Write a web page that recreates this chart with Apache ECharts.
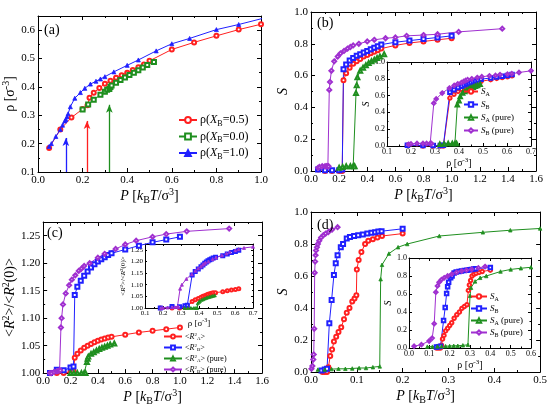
<!DOCTYPE html>
<html>
<head>
<meta charset="utf-8">
<script src="https://cdn.jsdelivr.net/npm/echarts@6/dist/echarts.min.js"></script>
<style>
    html, body { margin: 0; padding: 0; background: #fff; }
    #chart { width: 550px; height: 407px; }
</style>
</head>
<body>
<div id="chart"></div>
<script>
// ---------- data: mixture X_B = 0.5 (panels a-c) ----------
var pMix   = [0.05, 0.10, 0.15, 0.20, 0.222, 0.231, 0.25, 0.275, 0.30, 0.325, 0.35, 0.375, 0.40, 0.425, 0.45, 0.475, 0.50, 0.60, 0.70, 0.80, 0.90, 1.00];
var rhoMix = [0.185, 0.25, 0.292, 0.322, 0.335, 0.362, 0.379, 0.396, 0.411, 0.422, 0.432, 0.441, 0.450, 0.460, 0.469, 0.479, 0.492, 0.532, 0.557, 0.580, 0.602, 0.621];
var sAMix  = [0.01, 0.0, 0.0, 0.0, 0.0, 0.57, 0.615, 0.65, 0.675, 0.69, 0.705, 0.72, 0.73, 0.74, 0.75, 0.76, 0.77, 0.79, 0.805, 0.815, 0.825, 0.835];
var sBMix  = [0.01, 0.005, 0.005, 0.005, 0.01, 0.64, 0.67, 0.695, 0.71, 0.725, 0.735, 0.745, 0.755, 0.765, 0.775, 0.785, 0.795, 0.81, 0.82, 0.83, 0.84, 0.85];
var rAMix  = [1.0, 1.0, 1.0, 1.002, 1.004, 1.028, 1.035, 1.041, 1.046, 1.05, 1.053, 1.056, 1.059, 1.061, 1.063, 1.065, 1.066, 1.07, 1.074, 1.077, 1.08, 1.083];
var rBMix  = [1.0, 1.006, 1.005, 1.01, 1.012, 1.142, 1.157, 1.168, 1.177, 1.185, 1.192, 1.198, 1.203, 1.207, 1.211, 1.215, 1.218, 1.225, 1.232, 1.238, 1.243, 1.248];

// pure A (X_B = 0.0)
var pPureA   = [0.20, 0.225, 0.25, 0.28, 0.30, 0.31, 0.32, 0.325, 0.33, 0.35, 0.37, 0.39, 0.41, 0.43, 0.45, 0.47, 0.49, 0.52];
var rhoPureA = [0.320, 0.338, 0.355, 0.372, 0.383, 0.390, 0.393, 0.400, 0.405, 0.415, 0.424, 0.433, 0.442, 0.450, 0.459, 0.468, 0.477, 0.488];
var sPureA   = [0.02, 0.025, 0.03, 0.03, 0.03, 0.03, 0.49, 0.54, 0.59, 0.63, 0.65, 0.665, 0.68, 0.69, 0.70, 0.71, 0.72, 0.735];
var rPureA   = [1.0, 1.0, 1.0, 1.0, 1.0, 1.0, 1.02, 1.026, 1.03, 1.035, 1.038, 1.041, 1.044, 1.046, 1.048, 1.05, 1.052, 1.054];

// pure B (X_B = 1.0)
var pPureB   = [0.05, 0.06, 0.08, 0.10, 0.11, 0.12, 0.125, 0.13, 0.135, 0.145, 0.165, 0.19, 0.21, 0.235, 0.26, 0.28, 0.30, 0.34, 0.40, 0.45, 0.53, 0.60, 0.68, 0.80, 0.90, 1.05, 1.36];
var rhoPureB = [0.190, 0.200, 0.225, 0.250, 0.265, 0.280, 0.285, 0.295, 0.305, 0.330, 0.360, 0.380, 0.395, 0.410, 0.420, 0.428, 0.436, 0.453, 0.476, 0.495, 0.527, 0.552, 0.571, 0.602, 0.620, 0.650, 0.700];
var sPureB   = [0.02, 0.025, 0.03, 0.03, 0.03, 0.03, 0.03, 0.51, 0.56, 0.63, 0.69, 0.72, 0.74, 0.755, 0.77, 0.78, 0.79, 0.80, 0.815, 0.825, 0.835, 0.84, 0.85, 0.855, 0.86, 0.875, 0.895];
var rPureB   = [1.0, 1.0, 1.002, 1.003, 1.004, 1.005, 1.005, 1.083, 1.10, 1.125, 1.145, 1.16, 1.17, 1.178, 1.186, 1.19, 1.195, 1.2, 1.21, 1.217, 1.226, 1.234, 1.241, 1.248, 1.253, 1.258, 1.263];

// transition arrows in (a): pure B, mixture, pure A
var arrowP   = [0.125, 0.22, 0.32];
var arrowTop = [0.22, 0.28, 0.337];
var arrowBase = 0.1;

// ---------- data: panel (d) ----------
var pDA   = [0.025, 0.030, 0.035, 0.038, 0.042, 0.046, 0.050, 0.055, 0.060, 0.066, 0.072, 0.078, 0.084, 0.090, 0.095, 0.099, 0.100, 0.104, 0.110, 0.118, 0.125, 0.135, 0.145, 0.155, 0.200];
var rhoDA = [0.135, 0.145, 0.155, 0.160, 0.165, 0.172, 0.180, 0.190, 0.200, 0.210, 0.222, 0.235, 0.248, 0.260, 0.272, 0.285, 0.292, 0.297, 0.303, 0.310, 0.320, 0.330, 0.345, 0.360, 0.400];
var sDA   = [0.0, 0.0, 0.0, 0.03, 0.10, 0.14, 0.19, 0.22, 0.25, 0.28, 0.33, 0.37, 0.40, 0.44, 0.46, 0.48, 0.64, 0.70, 0.75, 0.80, 0.82, 0.83, 0.84, 0.85, 0.865];

var pDB   = [0.023, 0.030, 0.035, 0.040, 0.045, 0.050, 0.054, 0.058, 0.065, 0.070, 0.078, 0.085, 0.094, 0.103, 0.113, 0.123, 0.132, 0.140, 0.147, 0.154, 0.200];
var rhoDB = [0.135, 0.145, 0.155, 0.170, 0.178, 0.185, 0.190, 0.195, 0.205, 0.212, 0.222, 0.232, 0.245, 0.258, 0.272, 0.285, 0.297, 0.307, 0.318, 0.328, 0.400];
var sDB   = [0.01, 0.015, 0.02, 0.305, 0.45, 0.606, 0.68, 0.73, 0.78, 0.80, 0.834, 0.844, 0.85, 0.855, 0.86, 0.865, 0.87, 0.873, 0.878, 0.88, 0.895];

var pDPA   = [0.015, 0.030, 0.045, 0.060, 0.075, 0.090, 0.105, 0.120, 0.135, 0.150, 0.152, 0.155, 0.170, 0.190, 0.210, 0.280, 0.375, 0.435, 0.500];
var rhoDPA = [0.090, 0.115, 0.140, 0.160, 0.180, 0.200, 0.220, 0.240, 0.265, 0.290, 0.300, 0.305, 0.325, 0.350, 0.380, 0.450, 0.500, 0.550, 0.600];
var sDPA   = [0.015, 0.015, 0.018, 0.02, 0.02, 0.022, 0.025, 0.025, 0.03, 0.035, 0.58, 0.67, 0.74, 0.78, 0.80, 0.85, 0.873, 0.886, 0.897];

var pDPB   = [0.001, 0.003, 0.005, 0.006, 0.007, 0.008, 0.009, 0.010, 0.011, 0.013, 0.015, 0.018, 0.022, 0.027, 0.032, 0.038, 0.046, 0.058];
var rhoDPB = [0.025, 0.061, 0.099, 0.114, 0.124, 0.132, 0.140, 0.148, 0.160, 0.173, 0.190, 0.210, 0.234, 0.259, 0.283, 0.308, 0.341, 0.374];
var sDPB   = [0.02, 0.037, 0.078, 0.11, 0.27, 0.62, 0.69, 0.73, 0.76, 0.78, 0.80, 0.82, 0.84, 0.855, 0.865, 0.875, 0.89, 0.905];

// ---------- styling ----------
var serif = '"Liberation Serif", "DejaVu Serif", serif';
var RED = '#ff2020', BLUE = '#2020ff', GREEN = '#1f8f1f', PURPLE = '#a030d0';

function zip(a, b) {
    var out = [];
    for (var i = 0; i < a.length; i++) out.push([a[i], b[i]]);
    return out;
}

function rich(fs) {
    var small = Math.round(fs * 0.68);
    return {
        i: {fontFamily: serif, fontStyle: 'italic', fontSize: fs, color: '#000'},
        sub: {fontFamily: serif, fontSize: small, color: '#000', padding: [Math.round(fs * 0.55), 0, 0, 0]},
        sup: {fontFamily: serif, fontSize: small, color: '#000', padding: [0, 0, Math.round(fs * 0.55), 0]}
    };
}

function fmt(step, digits) {
    return function (v) {
        var k = v / step;
        return Math.abs(k - Math.round(k)) < 1e-6 ? v.toFixed(digits) : '';
    };
}

var xAxes = [], yAxes = [];

function axis(g, pos, s, main) {
    return {
        type: 'value', gridIndex: g, position: pos,
        min: s.min, max: s.max, interval: s.step,
        name: main ? s.name : '', nameLocation: 'middle', nameGap: s.gap,
        nameTextStyle: {fontFamily: serif, fontSize: s.nameSize, color: '#000', rich: rich(s.nameSize)},
        axisLine: {show: true, onZero: false, lineStyle: {color: '#000', width: 1}},
        axisTick: {show: true, inside: true, length: s.tick, lineStyle: {color: '#000', width: 1}},
        minorTick: {show: true, splitNumber: 2, length: s.tick / 2, lineStyle: {color: '#000', width: 1}},
        axisLabel: {show: main, fontFamily: serif, fontSize: s.size, color: '#000', margin: s.margin, formatter: fmt(s.step, s.digits)},
        splitLine: {show: false}
    };
}

function addAxes(g, xs, ys) {
    var idx = [xAxes.length, yAxes.length];
    xAxes.push(axis(g, 'bottom', xs, true));
    xAxes.push(axis(g, 'top', xs, false));
    yAxes.push(axis(g, 'left', ys, true));
    yAxes.push(axis(g, 'right', ys, false));
    return idx;
}

var grids = [
    {left: 38, top: 16, width: 223, height: 156},    // (a)
    {left: 311, top: 12, width: 225, height: 159},   // (b)
    {left: 387, top: 62, width: 144, height: 84},    // (b) inset
    {left: 42, top: 222, width: 220, height: 152},   // (c)
    {left: 145, top: 244, width: 108, height: 64},   // (c) inset
    {left: 311, top: 212, width: 230, height: 160},  // (d)
    {left: 409, top: 258, width: 122, height: 90}    // (d) inset
];
grids.forEach(function (g) { g.show = true; g.backgroundColor = '#fff'; g.borderWidth = 0; g.containLabel = false; });

var pName = '{i|P} [{i|k}{sub|B}{i|T}/σ{sup|3}]';
var rhoName = 'ρ [σ{sup|-3}]';
var sName = '{i|S}';
var rName = '<{i|R}{sup|2}>/<{i|R}{sup|2}(0)>';

var A  = addAxes(0, {min: 0, max: 1, step: 0.2, digits: 1, name: pName, gap: 14, nameSize: 14, size: 11, tick: 4, margin: 3},
                    {min: 0.1, max: 0.65, step: 0.1, digits: 1, name: rhoName, gap: 18, nameSize: 14, size: 11, tick: 4, margin: 3});
var B  = addAxes(1, {min: 0, max: 1.6, step: 0.2, digits: 1, name: pName, gap: 14, nameSize: 14, size: 11, tick: 4, margin: 3},
                    {min: 0, max: 1, step: 0.2, digits: 1, name: sName, gap: 18, nameSize: 14, size: 11, tick: 4, margin: 3});
var Bi = addAxes(2, {min: 0.1, max: 0.7, step: 0.1, digits: 1, name: rhoName, gap: 9, nameSize: 10, size: 8, tick: 3, margin: 2},
                    {min: 0, max: 1, step: 0.2, digits: 1, name: sName, gap: 12, nameSize: 10, size: 8, tick: 3, margin: 2});
var C  = addAxes(3, {min: 0, max: 1.6, step: 0.2, digits: 1, name: pName, gap: 13, nameSize: 14, size: 11, tick: 4, margin: 3},
                    {min: 1.0, max: 1.275, step: 0.05, digits: 2, name: rName, gap: 22, nameSize: 14, size: 11, tick: 4, margin: 3});
var Ci = addAxes(4, {min: 0.1, max: 0.7, step: 0.1, digits: 1, name: rhoName, gap: 8, nameSize: 9, size: 7, tick: 2, margin: 2},
                    {min: 1.0, max: 1.275, step: 0.05, digits: 2, name: rName, gap: 14, nameSize: 7, size: 7, tick: 2, margin: 2});
var D  = addAxes(5, {min: 0, max: 0.5, step: 0.1, digits: 1, name: pName, gap: 14, nameSize: 14, size: 11, tick: 4, margin: 3},
                    {min: 0, max: 1, step: 0.2, digits: 1, name: sName, gap: 18, nameSize: 14, size: 11, tick: 4, margin: 3});
var Di = addAxes(6, {min: 0, max: 0.6, step: 0.1, digits: 1, name: rhoName, gap: 9, nameSize: 10, size: 8, tick: 3, margin: 2},
                    {min: 0, max: 1, step: 0.2, digits: 1, name: sName, gap: 12, nameSize: 10, size: 8, tick: 3, margin: 2});

function line(name, ax, data, color, symbol, size) {
    return {
        type: 'line', name: name, xAxisIndex: ax[0], yAxisIndex: ax[1],
        data: data, symbol: symbol, symbolSize: size, showSymbol: true,
        lineStyle: {color: color, width: 1},
        itemStyle: {color: color, borderColor: color, borderWidth: 0.8},
        emphasis: {disabled: true}, clip: true, z: 3
    };
}

function arrow(i, color) {
    return {
        silent: true, symbol: ['none', 'arrow'], symbolSize: [5, 8],
        label: {show: false},
        lineStyle: {color: color, width: 1.3, type: 'solid'},
        data: [[{coord: [arrowP[i], arrowBase]}, {coord: [arrowP[i], arrowTop[i]]}]]
    };
}

var series = [];
// (a)
var sa1 = line('rhoMix', A, zip(pMix, rhoMix), RED, 'emptyCircle', 4);
var sa2 = line('rhoPureA', A, zip(pPureA, rhoPureA), GREEN, 'emptyRect', 4);
var sa3 = line('rhoPureB', A, zip(pPureB, rhoPureB), BLUE, 'triangle', 4);
sa3.markLine = arrow(0, BLUE);
sa1.markLine = arrow(1, RED);
sa2.markLine = arrow(2, GREEN);
series.push(sa1, sa2, sa3);
// (b) and its inset
series.push(
    line('SA', B, zip(pMix, sAMix), RED, 'emptyCircle', 4),
    line('SB', B, zip(pMix, sBMix), BLUE, 'emptyRect', 4),
    line('SApure', B, zip(pPureA, sPureA), GREEN, 'emptyTriangle', 4),
    line('SBpure', B, zip(pPureB, sPureB), PURPLE, 'emptyDiamond', 4),
    line('SA', Bi, zip(rhoMix, sAMix), RED, 'emptyCircle', 3.5),
    line('SB', Bi, zip(rhoMix, sBMix), BLUE, 'emptyRect', 3.5),
    line('SApure', Bi, zip(rhoPureA, sPureA), GREEN, 'emptyTriangle', 3.5),
    line('SBpure', Bi, zip(rhoPureB, sPureB), PURPLE, 'emptyDiamond', 3.5)
);
// (c) and its inset
series.push(
    line('RA', C, zip(pMix, rAMix), RED, 'emptyCircle', 4),
    line('RB', C, zip(pMix, rBMix), BLUE, 'emptyRect', 4),
    line('RApure', C, zip(pPureA, rPureA), GREEN, 'emptyTriangle', 4),
    line('RBpure', C, zip(pPureB, rPureB), PURPLE, 'emptyDiamond', 4),
    line('RA', Ci, zip(rhoMix, rAMix), RED, 'emptyCircle', 3),
    line('RB', Ci, zip(rhoMix, rBMix), BLUE, 'emptyRect', 3),
    line('RApure', Ci, zip(rhoPureA, rPureA), GREEN, 'triangle', 3),
    line('RBpure', Ci, zip(rhoPureB, rPureB), PURPLE, 'triangle', 3)
);
// (d) and its inset
series.push(
    line('SA', D, zip(pDA, sDA), RED, 'emptyCircle', 4),
    line('SB', D, zip(pDB, sDB), BLUE, 'emptyRect', 4),
    line('SApure', D, zip(pDPA, sDPA), GREEN, 'triangle', 3.5),
    line('SBpure', D, zip(pDPB, sDPB), PURPLE, 'emptyDiamond', 4),
    line('SA', Di, zip(rhoDA, sDA), RED, 'emptyCircle', 3.5),
    line('SB', Di, zip(rhoDB, sDB), BLUE, 'emptyRect', 3.5),
    line('SApure', Di, zip(rhoDPA, sDPA), GREEN, 'triangle', 3.5),
    line('SBpure', Di, zip(rhoDPB, sDPB), PURPLE, 'emptyDiamond', 3.5)
);

var legendText = {
    rhoMix: 'ρ({i|X}{sub|B}=0.5)', rhoPureA: 'ρ({i|X}{sub|B}=0.0)', rhoPureB: 'ρ({i|X}{sub|B}=1.0)',
    SA: '{i|S}{sub|A}', SB: '{i|S}{sub|B}', SApure: '{i|S}{sub|A} (pure)', SBpure: '{i|S}{sub|B} (pure)',
    RA: '<{i|R}{sup|2}{sub|A}>', RB: '<{i|R}{sup|2}{sub|B}>', RApure: '<{i|R}{sup|2}{sub|A}> (pure)', RBpure: '<{i|R}{sup|2}{sub|B}> (pure)'
};

function legend(names, left, top, fs, w, gap) {
    return {
        data: names, orient: 'vertical', left: left, top: top, padding: 0,
        itemWidth: w, itemHeight: fs * 0.6, itemGap: gap, selectedMode: false,
        formatter: function (n) { return legendText[n]; },
        textStyle: {fontFamily: serif, fontSize: fs, color: '#000', rich: rich(fs), padding: [0, 0, 0, -2]}
    };
}

var panelTitle = function (t, l, tp) {
    return {text: t, left: l, top: tp, padding: 0,
        textStyle: {fontFamily: serif, fontSize: 14, fontWeight: 'normal', color: '#000'}};
};

var chart = echarts.init(document.getElementById('chart'), null, {renderer: 'canvas'});
chart.setOption({
    backgroundColor: '#fff',
    animation: false,
    title: [
        panelTitle('(a)', 44, 23),
        panelTitle('(b)', 317, 16),
        panelTitle('(c)', 47, 226),
        panelTitle('(d)', 317, 218)
    ],
    legend: [
        legend(['rhoMix', 'rhoPureA', 'rhoPureB'], 178, 114, 12, 18, 3),
        legend(['SA', 'SB', 'SApure', 'SBpure'], 463, 87, 9, 14, 3),
        legend(['RA', 'RB', 'RApure', 'RBpure'], 163, 332, 8, 18, 2),
        legend(['SA', 'SB', 'SApure', 'SBpure'], 470, 292, 9, 16, 2)
    ],
    grid: grids,
    xAxis: xAxes,
    yAxis: yAxes,
    series: series
});
</script>
</body>
</html>
